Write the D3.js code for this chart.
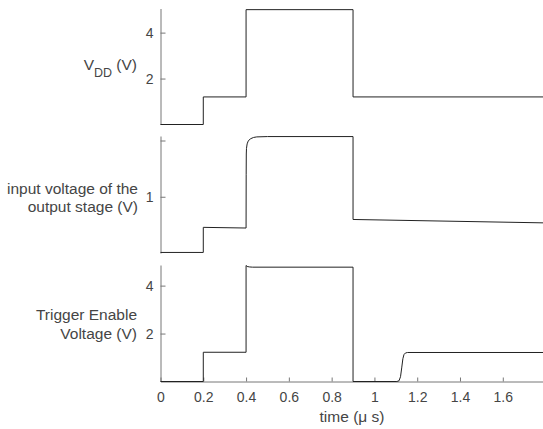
<!DOCTYPE html>
<html>
<head>
<meta charset="utf-8">
<script src="https://cdn.jsdelivr.net/npm/d3@7"></script>
<style>
  html, body { margin: 0; padding: 0; background: #fff; }
  svg text { font-family: "Liberation Sans", Arial, sans-serif; fill: #454545; }
</style>
</head>
<body>
<div id="chart"></div>
<script>
// time axis (µs)
var timeTicks = [0, 0.2, 0.4, 0.6, 0.8, 1, 1.2, 1.4, 1.6];
var timeTickLabels = ['0', '0.2', '0.4', '0.6', '0.8', '1', '1.2', '1.4', '1.6'];
var timeMax = 1.788;

// V_DD
var vddTime  = [0, 0.2, 0.2, 0.4, 0.4, 0.9, 0.9, 1.788];
var vddValue = [0, 0, 1.2, 1.2, 5, 5, 1.2, 1.2];
var vddTicks = [2, 4];
var vddTickLabels = ['2', '4'];

// input voltage of the output stage
var vinTime  = [0, 0.2, 0.2, 0.4, 0.4005, 0.401, 0.402, 0.405, 0.41, 0.42, 0.435, 0.45, 0.5, 0.9, 0.9, 1.788];
var vinValue = [0.505, 0.505, 0.728, 0.722, 1.2, 1.38, 1.43, 1.47, 1.495, 1.515, 1.527, 1.532, 1.535, 1.535, 0.798, 0.768];
var vinTicks = [1, 1.5];
var vinTickLabels = ['1', ''];

// trigger enable voltage
var trigTime  = [0, 0.2, 0.2, 0.4, 0.4, 0.405, 0.415, 0.43, 0.9, 0.9, 1.105, 1.115, 1.122, 1.128, 1.133, 1.138, 1.145, 1.155, 1.788];
var trigValue = [0, 0, 1.22, 1.22, 4.84, 4.8, 4.78, 4.77, 4.77, 0, 0, 0.03, 0.2, 0.6, 0.95, 1.12, 1.19, 1.21, 1.21];
var trigTicks = [2, 4];
var trigTickLabels = ['2', '4'];

var W = 543, H = 429;
var left = 160.5, right = 543;
var axisColor = '#777';
var lineColor = '#222';

var svg = d3.select('#chart').append('svg').attr('width', W).attr('height', H);

var x = d3.scaleLinear().domain([0, timeMax]).range([left, right]);

var panels = [
  { t: vddTime, v: vddValue, dom: [0, 5.05], rng: [124.5, 8.5], ticks: vddTicks, labels: vddTickLabels },
  { t: vinTime, v: vinValue, dom: [0.5, 1.54], rng: [253, 136], ticks: vinTicks, labels: vinTickLabels },
  { t: trigTime, v: trigValue, dom: [0, 4.86], rng: [381.5, 265], ticks: trigTicks, labels: trigTickLabels }
];

function styleAxis(g) {
  g.select('.domain').attr('stroke', axisColor);
  g.selectAll('.tick line').attr('stroke', axisColor);
  g.selectAll('.tick text').attr('fill', '#454545').style('font-size', '14px')
    .style('font-family', '"Liberation Sans", Arial, sans-serif');
}

// bottom time axis (drawn first so the trace sits on top)
svg.append('g')
  .attr('transform', 'translate(0,' + 381.5 + ')')
  .call(d3.axisBottom(x).tickValues(timeTicks)
    .tickFormat(function (d, i) { return timeTickLabels[i]; })
    .tickSizeInner(-4).tickSizeOuter(0).tickPadding(11))
  .call(styleAxis);

panels.forEach(function (p) {
  var y = d3.scaleLinear().domain(p.dom).range(p.rng);
  svg.append('g')
    .attr('transform', 'translate(' + left + ',0)')
    .call(d3.axisLeft(y).tickValues(p.ticks)
      .tickFormat(function (d, i) { return p.labels[i]; })
      .tickSizeInner(-5).tickSizeOuter(0).tickPadding(7))
    .call(styleAxis);

  var pts = p.t.map(function (t, i) { return [t, p.v[i]]; });
  svg.append('path').datum(pts)
    .attr('fill', 'none')
    .attr('stroke', lineColor)
    .attr('stroke-width', 1)
    .attr('d', d3.line()
      .x(function (d) { return x(d[0]); })
      .y(function (d) { return y(d[1]); }));
});

// y labels
var lab = svg.append('text').attr('x', 137).attr('y', 70)
  .attr('text-anchor', 'end').style('font-size', '15.5px');
lab.append('tspan').text('V');
lab.append('tspan').attr('dy', 7).style('font-size', '12.5px').text('DD');
lab.append('tspan').attr('dy', -7).text(' (V)');

svg.append('text').attr('x', 138).attr('y', 194)
  .attr('text-anchor', 'end').style('font-size', '15.5px').text('input voltage of the');
svg.append('text').attr('x', 138).attr('y', 211.5)
  .attr('text-anchor', 'end').style('font-size', '15.5px').text('output stage (V)');

svg.append('text').attr('x', 137).attr('y', 320)
  .attr('text-anchor', 'end').style('font-size', '15.5px').text('Trigger Enable');
svg.append('text').attr('x', 137).attr('y', 339)
  .attr('text-anchor', 'end').style('font-size', '15.5px').text('Voltage (V)');

// x label
svg.append('text').attr('x', 352).attr('y', 422)
  .attr('text-anchor', 'middle').style('font-size', '15.5px').text('time (\u03bc s)');
</script>
</body>
</html>
